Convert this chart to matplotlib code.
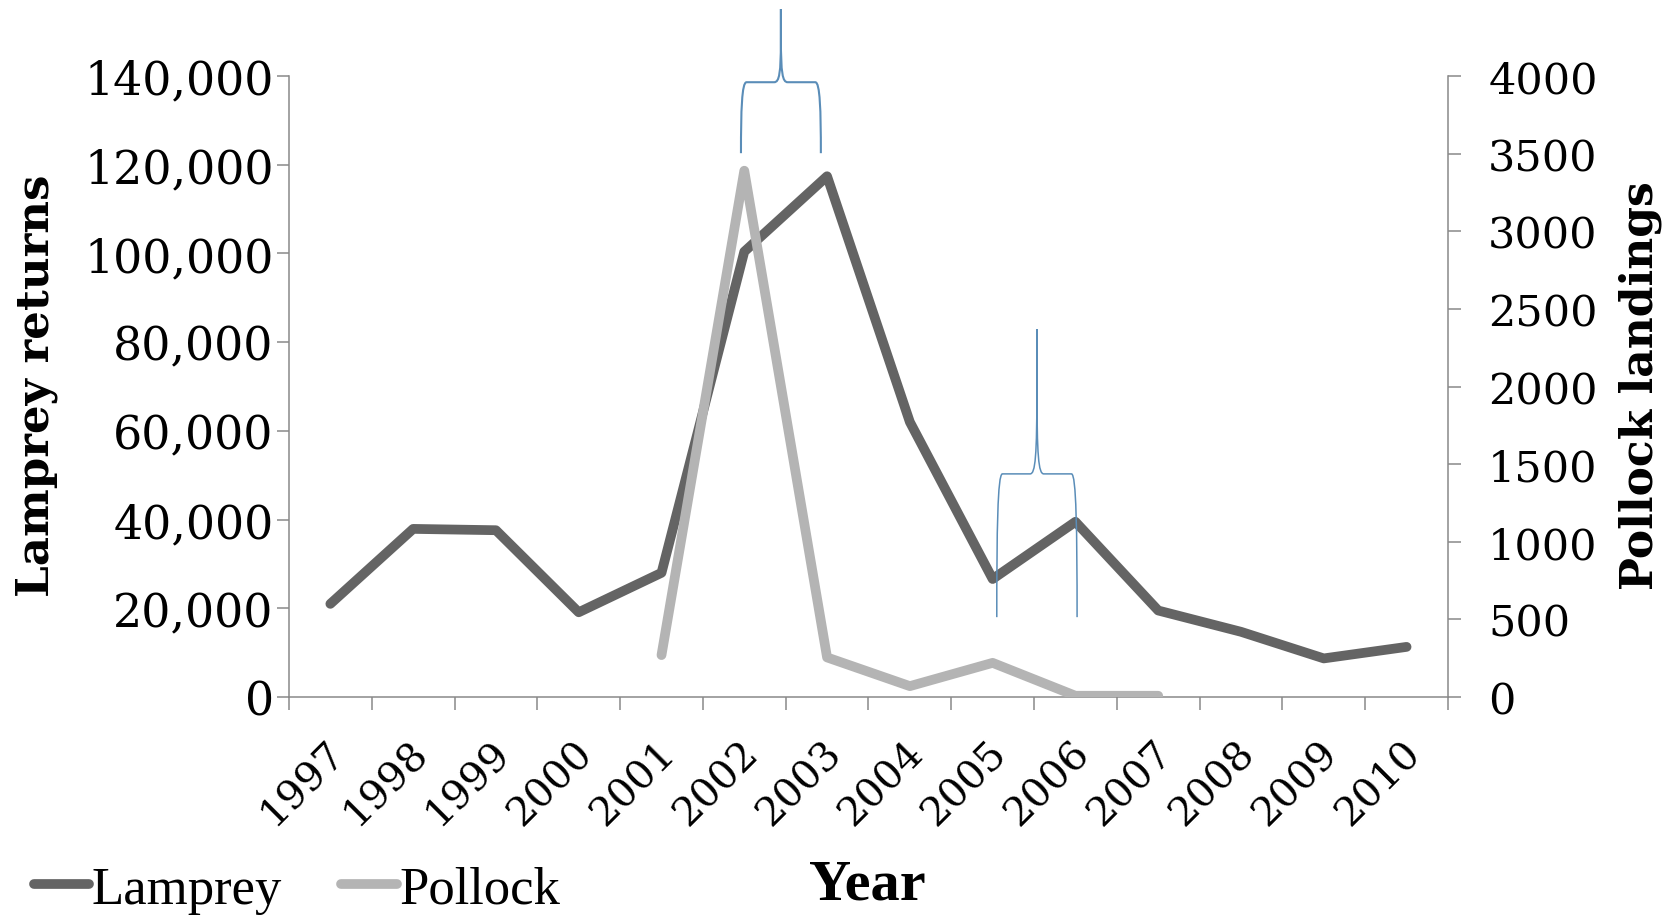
import numpy as np
import matplotlib.pyplot as plt
import matplotlib.transforms as mtransforms
from matplotlib.path import Path
from matplotlib.patches import PathPatch
from matplotlib.ticker import FuncFormatter, FixedLocator

years = ['1997', '1998', '1999', '2000', '2001', '2002', '2003',
         '2004', '2005', '2006', '2007', '2008', '2009', '2010']
lamprey = [21000, 37900, 37600, 19100, 28000, 100400, 117400,
           62000, 26600, 39500, 19500, 14700, 8700, 11300]
nan = np.nan
pollock = [nan, nan, nan, nan, 270, 3390, 255, 70, 220, 8, 8, nan, nan, nan]

# curly braces drawn on the chart: x from, x to, bottom, middle, tip (left axis units)
braces = [(4.96, 5.925, 122600, 138600, 155100),
          (8.05, 9.02, 18000, 50300, 82900)]
brace_lw = [1.5, 1.1]

dark = '#646464'
light = '#b4b4b4'
axcol = '#898989'
bluec = '#5a8db8'
tickfont = 'DejaVu Serif'

fig = plt.figure(figsize=(16.79, 9.2), dpi=100)
ax = fig.add_axes([0.1721, 0.2413, 0.6903, 0.675])
ax2 = ax.twinx()

x = np.arange(len(years))
ax.plot(x, lamprey, color=dark, lw=7, solid_capstyle='round', solid_joinstyle='round')
ax2.plot(x, pollock, color=light, lw=7, solid_capstyle='round', solid_joinstyle='round')

ax.set_xlim(-0.5, len(years) - 0.5)
ax.set_ylim(0, 140000)
ax2.set_ylim(0, 4000)

ax.xaxis.set_major_locator(FixedLocator(np.arange(-0.5, len(years), 1.0)))
ax.xaxis.set_minor_locator(FixedLocator(x))
ax.set_xticklabels([], minor=False)
ax.set_xticklabels(years, minor=True, rotation=45, ha='right', va='center',
                   rotation_mode='anchor', fontsize=29, family=tickfont)
ax.tick_params(axis='x', which='major', length=9, width=1.1, color=axcol, direction='out')
ax.tick_params(axis='x', which='minor', length=0, pad=36)
shift = mtransforms.ScaledTranslation(6 / 72, 0, fig.dpi_scale_trans)
for t in ax.xaxis.get_minorticklabels():
    t.set_transform(t.get_transform() + shift)

ax.set_yticks(np.arange(0, 140001, 20000))
ax.yaxis.set_major_formatter(FuncFormatter(lambda v, p: '{:,.0f}'.format(v)))
ax.tick_params(axis='y', length=9, width=1.1, color=axcol, direction='out', pad=2,
               labelsize=33)
for t in ax.get_yticklabels():
    t.set_family(tickfont)

ax2.set_yticks(np.arange(0, 4001, 500))
ax2.yaxis.set_major_formatter(FuncFormatter(lambda v, p: '{:.0f}'.format(v)))
ax2.tick_params(axis='y', length=9, width=1.1, color=axcol, direction='out', pad=20,
                labelsize=31)
for t in ax2.get_yticklabels():
    t.set_family(tickfont)

for s in ['top', 'right']:
    ax.spines[s].set_visible(False)
for s in ['top', 'left', 'bottom']:
    ax2.spines[s].set_visible(False)
for s in ['left', 'bottom']:
    ax.spines[s].set_color(axcol)
    ax.spines[s].set_linewidth(1.1)
ax2.spines['right'].set_color(axcol)
ax2.spines['right'].set_linewidth(1.1)


def brace_path(x0, x1, yb, ym, yt):
    def P(u, v):
        xx = x0 + u * (x1 - x0)
        if v <= 0.5:
            yy = yb + v / 0.5 * (ym - yb)
        else:
            yy = ym + (v - 0.5) / 0.5 * (yt - ym)
        return (xx, yy)
    verts = []
    codes = []
    for side in (0, 1):
        f = (lambda u: u) if side == 0 else (lambda u: 1 - u)
        pts = [(f(0), 0),
               (f(0), 0.3), (f(0.01), 0.5), (f(0.07), 0.5),
               (f(0.415), 0.5),
               (f(0.48), 0.5), (f(0.5), 0.56), (f(0.5), 0.8),
               (f(0.5), 1.0)]
        cs = [Path.MOVETO,
              Path.CURVE4, Path.CURVE4, Path.CURVE4,
              Path.LINETO,
              Path.CURVE4, Path.CURVE4, Path.CURVE4,
              Path.LINETO]
        verts += [P(u, v) for u, v in pts]
        codes += cs
    return Path(verts, codes)


for b, lw in zip(braces, brace_lw):
    patch = PathPatch(brace_path(*b), transform=ax.transData, fill=False,
                      edgecolor=bluec, lw=lw, clip_on=False, zorder=10)
    ax2.add_patch(patch)

fig.text(0.022, 0.581, 'Lamprey returns', rotation=90, ha='center', va='center',
         fontsize=32.5, fontweight='bold', family=tickfont)
fig.text(0.977, 0.581, 'Pollock landings', rotation=90, ha='center', va='center',
         fontsize=31.7, fontweight='bold', family=tickfont)
fig.text(0.5165, 0.038, 'Year', ha='center', va='center',
         fontsize=42, fontweight='bold', family='Liberation Serif')

h1, = ax.plot([], [], color=dark, lw=7, solid_capstyle='round')
h2, = ax.plot([], [], color=light, lw=7, solid_capstyle='round')
fig.legend([h1, h2], ['Lamprey', 'Pollock'], loc='center left',
           bbox_to_anchor=(0.02, 0.032), ncol=2, frameon=False,
           prop={'family': 'Liberation Serif', 'size': 38},
           handlelength=1.05, handletextpad=0.05, columnspacing=1.12,
           borderpad=0, borderaxespad=0)

fig.savefig('out.png', dpi=100)
